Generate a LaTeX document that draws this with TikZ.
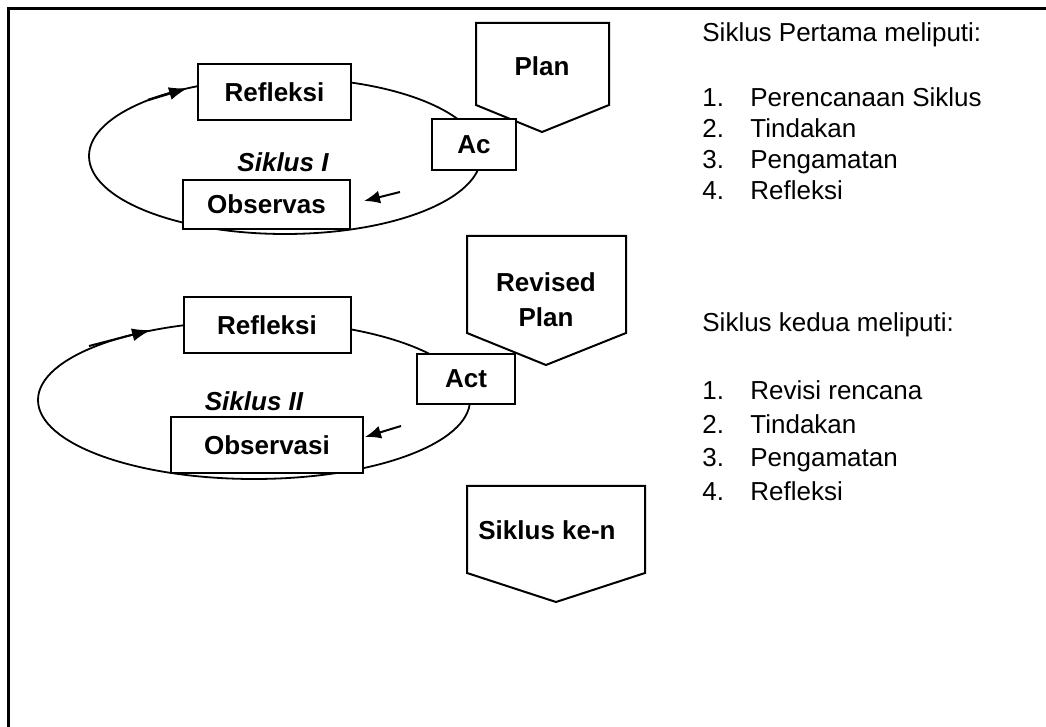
\documentclass[tikz,border=0pt]{standalone}
\usepackage{fontspec}
\setmainfont{Liberation Sans}
\usetikzlibrary{arrows.meta, positioning}

\begin{document}
\begin{tikzpicture}[
    x=0.5pt, y=-0.5pt,
    every node/.style={font=\fontsize{13}{17.5}\selectfont},
    stage/.style={
        rectangle,
        draw,
        fill=white,
        line width=1pt,
        inner sep=0pt,
        font=\fontsize{13}{17.5}\selectfont\bfseries
    },
    banner/.style={
        draw,
        fill=white,
        line width=1pt,
        line join=miter
    },
    bannertext/.style={
        align=center,
        font=\fontsize{13}{17.5}\selectfont\bfseries
    },
    cycle/.style={line width=0.9pt},
    arrow/.style={
        -{Latex[length=#1,width=6.5pt]},
        line width=1pt
    },
    title/.style={font=\fontsize{13}{17.5}\selectfont\bfseries\itshape},
    item/.style={anchor=base west, inner sep=0pt}
]

\useasboundingbox (0,0) rectangle (1046,727);

% Frame (top and left only)
\draw[line width=1.5pt] (8,727) -- (8,9) -- (1046,9);

% Banners
\draw[banner] (476,23) -- (609,23) -- (609,105) -- (542,132) -- (476,105) -- cycle;
\draw[banner] (467,236) -- (626,236) -- (626,333) -- (546,365) -- (467,333) -- cycle;
\draw[banner] (467,486) -- (645,486) -- (645,573) -- (556,602) -- (467,573) -- cycle;
\node[bannertext] (plan) at (542,66) {Plan};
\node[bannertext] (revplan) at (546,300) {Revised\\Plan};
\node[bannertext] (nextcycle) at (547,530) {Siklus ke-n};

% Cycle I
\draw[cycle] (285,156) ellipse [x radius=98pt, y radius=39pt];
\coordinate (in1) at (148,100);
\coordinate (tip1) at (188,88);
\draw[arrow=9.5pt, line width=1.2pt] (in1) -- (tip1);
\coordinate (from1) at (400,192);
\coordinate (to1) at (364,201);
\draw[arrow=8pt] (from1) -- (to1);

\node[stage, minimum width=76.5pt, minimum height=28pt] (refl1) at (274.5,92) {Refleksi};
\node[stage, minimum width=83.5pt, minimum height=24.5pt] (obs1) at (266.5,204.5) {Observas};
\node[stage, minimum width=42pt, minimum height=25.5pt] (act1) at (474,144.5) {Ac};
\node[title] (cyc1) at (283,162) {Siklus I};

% Cycle II
\draw[cycle] (254,400) ellipse [x radius=108pt, y radius=39.5pt];
\coordinate (in2) at (89,346);
\coordinate (tip2) at (151,330);
\draw[arrow=9.5pt] (in2) -- (tip2);
\coordinate (from2) at (401,426);
\coordinate (to2) at (365,437);
\draw[arrow=8pt] (from2) -- (to2);

\node[stage, minimum width=83.5pt, minimum height=28pt] (refl2) at (267,325) {Refleksi};
\node[stage, minimum width=96pt, minimum height=28pt] (obs2) at (267,445) {Observasi};
\node[stage, minimum width=49pt, minimum height=25pt] (act2) at (466,379) {Act};
\node[title] (cyc2) at (254,401) {Siklus II};

% Lists
\node[item] (head1) at (702,42) {Siklus Pertama meliputi:};
\foreach \txt [count=\i] in {Perencanaan Siklus, Tindakan, Pengamatan, Refleksi} {
    \pgfmathsetmacro{\rowy}{107+31*(\i-1)}
    \node[item] (numa\i) at (702,\rowy) {\i.};
    \node[item] (itema\i) at (750,\rowy) {\txt};
}

\node[item] (head2) at (702,332) {Siklus kedua meliputi:};
\foreach \txt [count=\i] in {Revisi rencana, Tindakan, Pengamatan, Refleksi} {
    \pgfmathsetmacro{\rowy}{400+33.5*(\i-1)}
    \node[item] (numb\i) at (702,\rowy) {\i.};
    \node[item] (itemb\i) at (750,\rowy) {\txt};
}

\end{tikzpicture}
\end{document}
